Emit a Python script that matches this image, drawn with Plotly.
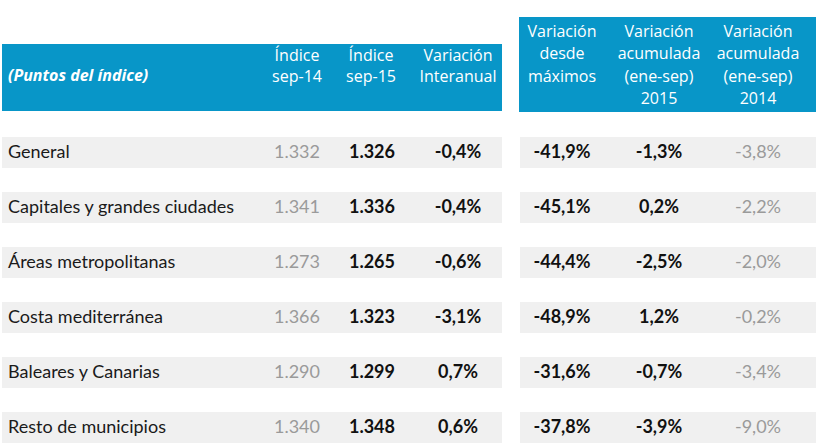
import plotly.graph_objects as go

# data
regions = [
    "General",
    "Capitales y grandes ciudades",
    "Áreas metropolitanas",
    "Costa mediterránea",
    "Baleares y Canarias",
    "Resto de municipios",
]
indice_sep14 = ["1.332", "1.341", "1.273", "1.366", "1.290", "1.340"]
indice_sep15 = ["1.326", "1.336", "1.265", "1.323", "1.299", "1.348"]
var_interanual = ["-0,4%", "-0,4%", "-0,6%", "-3,1%", "0,7%", "0,6%"]
var_maximos = ["-41,9%", "-45,1%", "-44,4%", "-48,9%", "-31,6%", "-37,8%"]
var_acum_2015 = ["-1,3%", "0,2%", "-2,5%", "1,2%", "-0,7%", "-3,9%"]
var_acum_2014 = ["-3,8%", "-2,2%", "-2,0%", "-0,2%", "-3,4%", "-9,0%"]

left_headers = [["Índice", "sep-14"], ["Índice", "sep-15"], ["Variación", "Interanual"]]
right_headers = [
    ["Variación", "desde", "máximos"],
    ["Variación", "acumulada", "(ene-sep)", "2015"],
    ["Variación", "acumulada", "(ene-sep)", "2014"],
]

BLUE = "#0896c8"
BAND = "#f0f0f0"
FONT = "Lato, sans-serif"
HEAD_FONT = "'Open Sans', sans-serif"

W, H = 818, 446
row_y = [153 + 55 * i for i in range(len(regions))]

fig = go.Figure()

# grey row bands, left and right blocks
for x0, x1 in [(2, 502), (520, 816)]:
    fig.add_trace(go.Bar(
        orientation="h",
        y=[y - 0.5 for y in row_y],
        x=[x1 - x0] * len(row_y),
        base=x0,
        width=31,
        marker=dict(color=BAND, line=dict(width=0)),
        hoverinfo="skip",
        showlegend=False,
    ))

# header blocks
fig.add_shape(type="rect", x0=2, x1=502, y0=44, y1=111,
              fillcolor=BLUE, line_width=0, layer="below")
fig.add_shape(type="rect", x0=519, x1=816, y0=17, y1=112,
              fillcolor=BLUE, line_width=0, layer="below")


def text_col(x, texts, color, size=18, bold=False, anchor="middle center"):
    if bold:
        texts = [f"<b>{t}</b>" for t in texts]
    fig.add_trace(go.Scatter(
        x=[x] * len(texts), y=row_y, mode="text", text=texts,
        textposition=anchor,
        textfont=dict(family=FONT, size=size, color=color),
        hoverinfo="skip", showlegend=False,
    ))


text_col(8, regions, "#1a1a1a", anchor="middle right")
text_col(297, indice_sep14, "#9a9a9a")
text_col(372, indice_sep15, "#111111", bold=True)
text_col(458, var_interanual, "#111111", bold=True)
text_col(562, var_maximos, "#111111", bold=True)
text_col(659, var_acum_2015, "#111111", bold=True)
text_col(758, var_acum_2014, "#9a9a9a")


def header_col(x, lines, y_top, step):
    fig.add_trace(go.Scatter(
        x=[x] * len(lines), y=[y_top + step * k for k in range(len(lines))],
        mode="text", text=lines, textposition="middle center",
        textfont=dict(family=HEAD_FONT, size=16, color="white"),
        hoverinfo="skip", showlegend=False,
    ))


for x, lines in zip([297, 371, 458], left_headers):
    header_col(x, lines, 57, 21)
for x, lines in zip([562, 659, 758], right_headers):
    header_col(x, lines, 33, 22.3)

fig.add_trace(go.Scatter(
    x=[8], y=[77], mode="text", text=["<b><i>(Puntos del índice)</i></b>"],
    textposition="middle right",
    textfont=dict(family=HEAD_FONT, size=16, color="white"),
    hoverinfo="skip", showlegend=False,
))

fig.update_layout(
    width=W, height=H,
    margin=dict(l=0, r=0, t=0, b=0),
    paper_bgcolor="white", plot_bgcolor="white",
    barmode="overlay", bargap=0,
    xaxis=dict(range=[0, W], visible=False, fixedrange=True),
    yaxis=dict(range=[H, 0], visible=False, fixedrange=True),
)

fig.write_html(
    "out.html",
    config={"displayModeBar": False, "staticPlot": True},
    post_script="document.body.style.margin='0';",
)
